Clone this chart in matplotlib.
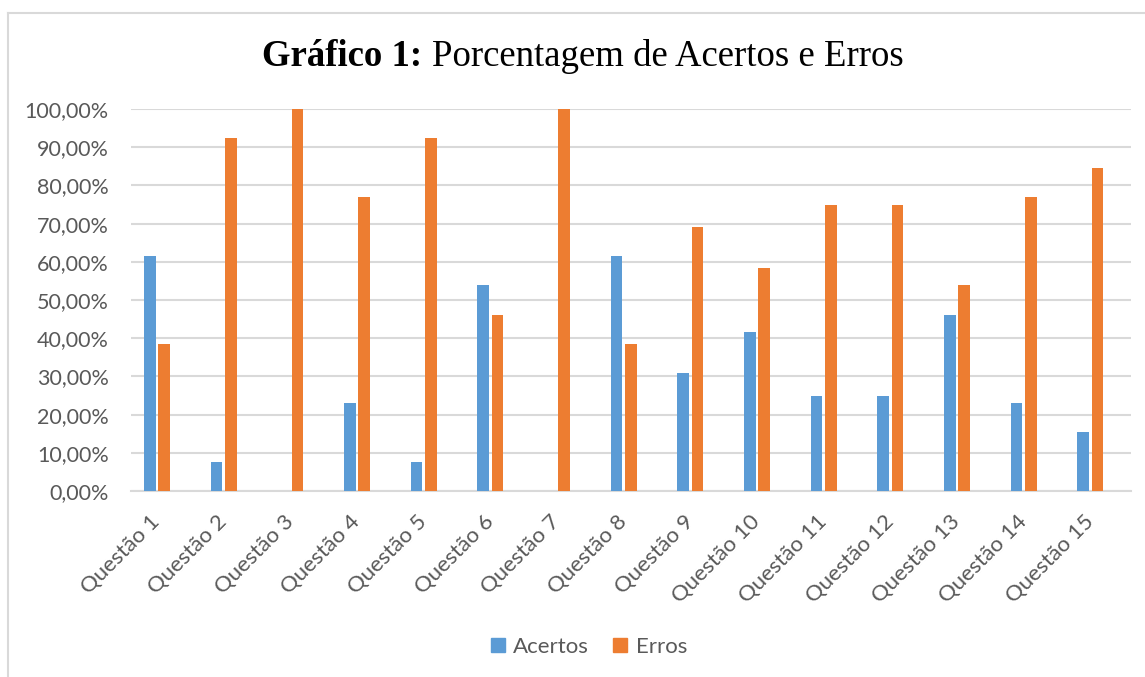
import matplotlib.pyplot as plt
import matplotlib.transforms as mtransforms
import numpy as np
from matplotlib.lines import Line2D

questoes = ["Questão %d" % i for i in range(1, 16)]
acertos = [61.54, 7.69, 0.0, 23.08, 7.69, 53.85, 0.0, 61.54, 30.77, 41.67, 25.0, 25.0, 46.15, 23.08, 15.38]
erros = [38.46, 92.31, 100.0, 76.92, 92.31, 46.15, 100.0, 38.46, 69.23, 58.33, 75.0, 75.0, 53.85, 76.92, 84.62]
yticks = [0, 10, 20, 30, 40, 50, 60, 70, 80, 90, 100]

BLUE = '#5b9bd5'
ORANGE = '#ed7d31'
GRID = '#d9d9d9'
TXT = '#595959'
FONT = 'Lato'
W, H = 1145, 677

fig = plt.figure(figsize=(W / 100, H / 100), dpi=100)
ax = fig.add_axes([131 / W, 1 - 491 / H, 1000 / W, 382 / H])

x = np.arange(len(questoes))
w = 0.175
ax.bar(x - 0.108, acertos, w, color=BLUE, label='Acertos', zorder=3)
ax.bar(x + 0.108, erros, w, color=ORANGE, label='Erros', zorder=3)

ax.set_xlim(-0.39, len(questoes) - 0.39)
ax.set_ylim(0, 100)
ax.set_yticks(yticks)
ax.set_yticklabels([("%.2f%%" % v).replace('.', ',') for v in yticks],
                   fontsize=15.5, color=TXT, family=FONT)
ax.set_xticks(x)
ax.set_xticklabels(questoes, rotation=45, ha='right', va='center', rotation_mode='anchor',
                   fontsize=16, color=TXT, family=FONT)
shift = mtransforms.ScaledTranslation(5 / 100, 0, fig.dpi_scale_trans)
for lbl in ax.get_xticklabels():
    lbl.set_transform(lbl.get_transform() + shift)
ax.tick_params(axis='both', length=0)
ax.tick_params(axis='y', pad=16)
ax.tick_params(axis='x', pad=20)
ax.grid(axis='y', color=GRID, linewidth=1.5, zorder=0)
for s in ['top', 'right', 'left']:
    ax.spines[s].set_visible(False)
ax.spines['bottom'].set_color(GRID)
ax.spines['bottom'].set_linewidth(1.5)

# title: bold prefix + regular text, centred together
r = fig.canvas.get_renderer()
t1 = fig.text(0, 1 - 57 / H, "Gráfico 1: ", ha='left', va='center', fontsize=26.5,
              family='Liberation Serif', fontweight='bold')
t2 = fig.text(0, 1 - 57 / H, "Porcentagem de Acertos e Erros", ha='left', va='center',
              fontsize=26.5, family='Liberation Serif')
w1 = t1.get_window_extent(r).width
w2 = t2.get_window_extent(r).width
x0 = 583 - (w1 + w2) / 2
t1.set_x(x0 / W)
t2.set_x((x0 + w1) / W)

handles = [Line2D([], [], marker='s', linestyle='', markersize=10.5, color=BLUE),
           Line2D([], [], marker='s', linestyle='', markersize=10.5, color=ORANGE)]
leg = fig.legend(handles, ['Acertos', 'Erros'], loc='center', bbox_to_anchor=(588 / W, 1 - 647 / H),
                 ncol=2, frameon=False, handlelength=0.8, handletextpad=0.3, columnspacing=1.0,
                 prop={'family': FONT, 'size': 16})
for t in leg.get_texts():
    t.set_color(TXT)

# chart border
fig.add_artist(Line2D([8 / W, 8 / W], [0, 1 - 13 / H], color=GRID, linewidth=1.5,
                      transform=fig.transFigure))
fig.add_artist(Line2D([8 / W, 1], [1 - 13 / H, 1 - 13 / H], color=GRID, linewidth=1.5,
                      transform=fig.transFigure))

fig.savefig('out.png', dpi=100)
